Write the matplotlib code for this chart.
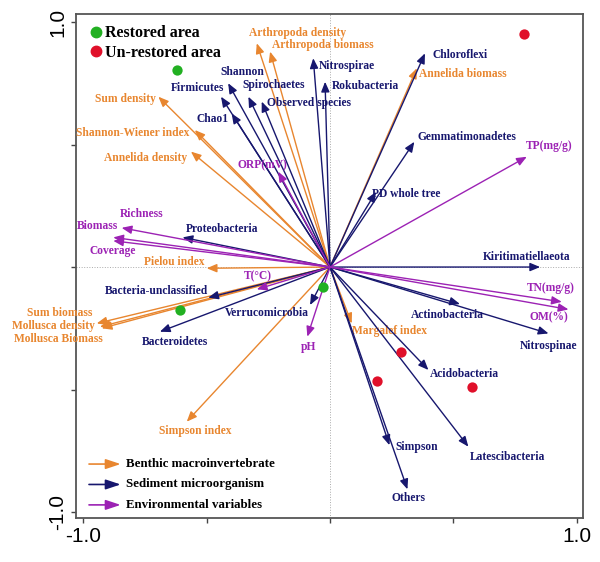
import matplotlib
matplotlib.use('Agg')
import matplotlib.pyplot as plt
from matplotlib.lines import Line2D

# ---- data (biplot scores) ----
benthic_names = ['Arthropoda density', 'Arthropoda biomass', 'Sum density', 'Shannon-Wiener index',
                 'Annelida density', 'Annelida biomass', 'Pielou index', 'Sum biomass',
                 'Mollusca density', 'Mollusca Biomass', 'Simpson index', 'Margalef index']
benthic_x = [-0.297, -0.243, -0.696, -0.548, -0.564, 0.352, -0.500, -0.946, -0.933, -0.926, -0.581, 0.088]
benthic_y = [0.913, 0.879, 0.695, 0.559, 0.471, 0.811, -0.005, -0.230, -0.244, -0.250, -0.631, -0.230]

micro_names = ['Chloroflexi', 'Nitrospirae', 'Rokubacteria', 'Observed species', 'Spirochaetes',
               'Shannon', 'Firmicutes', 'Chao1', 'Gemmatimonadetes', 'PD whole tree',
               'Proteobacteria', 'Kiritimatiellaeota', 'Bacteria-unclassified', 'Bacteroidetes',
               'Verrucomicrobia', 'Actinobacteria', 'Nitrospinae', 'Acidobacteria',
               'Latescibacteria', 'Simpson', 'Others']
micro_x = [0.385, -0.068, -0.020, -0.277, -0.331, -0.413, -0.442, -0.399, 0.342, 0.187,
           -0.598, 0.852, -0.494, -0.690, -0.081, 0.527, 0.886, 0.399, 0.561, 0.241, 0.314]
micro_y = [0.872, 0.852, 0.756, 0.675, 0.695, 0.750, 0.695, 0.627, 0.511, 0.307,
           0.121, 0.000, -0.125, -0.264, -0.155, -0.151, -0.271, -0.420, -0.733, -0.727, -0.907]

env_names = ['ORP(mV)', 'Biomass', 'Richness', 'Coverage', 'T(\u00b0C)', 'pH',
             'TP(mg/g)', 'TN(mg/g)', 'OM(%)']
env_x = [-0.210, -0.845, -0.879, -0.879, -0.297, -0.092, 0.798, 0.940, 0.967]
env_y = [0.389, 0.160, 0.121, 0.107, -0.091, -0.284, 0.450, -0.142, -0.173]

restored_x = [-0.622, -0.609, -0.027]
restored_y = [0.804, -0.176, -0.083]
unrestored_x = [0.787, 0.288, 0.189, 0.577]
unrestored_y = [0.951, -0.346, -0.464, -0.491]

# ---- label offsets from arrow tips (pixels) ----
benthic_off = [(41, 10), (53, 7), (-33, -2), (-62, -3), (-45, -6), (46, -6), (-32, 6),
               (-37, 10), (-47, 1), (-43, -11), (9, -9), (38, -8)]
micro_off = [(35, -2), (34, -8), (40, -4), (47, -1), (25, 12), (14, 11), (-23, 9), (-19, -6),
             (53, 5), (30, -2), (40, 8), (-13, 10), (-52, 7), (15, -10), (-43, -8), (-13, -11),
             (0, -13), (36, -4), (39, -10), (27, -2), (1, -9)]
env_off = [(-16, 6), (-24, 2), (28, 23), (-1, -10), (1, 13), (1, -10), (22, 11), (-11, 14), (-20, -8)]

ORANGE = '#E8862F'
NAVY = '#17176E'
PURPLE = '#9C22B4'
LAB_FONT = 'Liberation Serif'
LAB_SIZE = 8.3

fig = plt.figure(figsize=(6, 5.62), dpi=100)
ax = fig.add_axes([0.1267, 0.0783, 0.845, 0.897])
ax.set_xlim(-1.03, 1.026)
ax.set_ylim(-1.024, 1.033)

ax.axhline(0, color='#aaaaaa', lw=0.7, ls=':', zorder=0)
ax.axvline(0, color='#aaaaaa', lw=0.7, ls=':', zorder=0)

def draw_group(names, xs, ys, offs, color):
    for nm, x, y, off in zip(names, xs, ys, offs):
        ax.annotate('', xy=(x, y), xytext=(0, 0),
                    arrowprops=dict(arrowstyle='-|>,head_length=0.6,head_width=0.25',
                                    color=color, lw=1.0, shrinkA=0, shrinkB=0,
                                    mutation_scale=10))
        ax.annotate(nm, xy=(x, y), xytext=off, textcoords='offset pixels',
                    ha='center', va='center', color=color, fontsize=LAB_SIZE,
                    fontweight='bold', family=LAB_FONT)

draw_group(benthic_names, benthic_x, benthic_y, benthic_off, ORANGE)
draw_group(micro_names, micro_x, micro_y, micro_off, NAVY)
draw_group(env_names, env_x, env_y, env_off, PURPLE)

ax.scatter(restored_x, restored_y, s=55, color='#22B022', zorder=5, linewidths=0)
ax.scatter(unrestored_x, unrestored_y, s=55, color='#E0102A', zorder=5, linewidths=0)

# top-left legend
handles = [Line2D([], [], marker='o', ls='', color='#22B022', markersize=7.5),
           Line2D([], [], marker='o', ls='', color='#E0102A', markersize=7.5)]
ax.legend(handles, ['Restored area', 'Un-restored area'], loc='upper left',
          bbox_to_anchor=(-0.002, 0.995), frameon=False, handletextpad=-0.15,
          labelspacing=0.22, borderaxespad=0.15, handlelength=1.5,
          prop={'family': LAB_FONT, 'weight': 'bold', 'size': 11.5})

# bottom-left arrow legend
leg_items = [('Benthic macroinvertebrate', ORANGE), ('Sediment microorganism', NAVY),
             ('Environmental variables', PURPLE)]
for i, (txt, col) in enumerate(leg_items):
    yy = 0.107 - i * 0.0405
    ax.annotate('', xy=(0.088, yy), xytext=(0.0256, yy), xycoords='axes fraction',
                textcoords='axes fraction',
                arrowprops=dict(arrowstyle='-|>,head_length=0.9,head_width=0.3',
                                color=col, lw=1.2, shrinkA=0, shrinkB=0, mutation_scale=10))
    ax.text(0.0986, yy, txt, transform=ax.transAxes, ha='left', va='center',
            fontsize=9.3, fontweight='bold', family=LAB_FONT, color='black')

# axes / ticks
ax.set_xticks([-1, -0.5, 0, 0.5, 1])
ax.set_yticks([-1, -0.5, 0, 0.5, 1])
ax.set_xticklabels(['-1.0', '', '', '', '1.0'], family='Liberation Sans', fontsize=15)
ax.set_yticklabels(['-1.0', '', '', '', '1.0'], family='Liberation Sans', fontsize=15,
                   rotation=90, va='center')
ax.tick_params(direction='out', length=3.5, width=1, color='#444444', pad=3)
for sp in ax.spines.values():
    sp.set_color('#555555')
    sp.set_linewidth(1.3)

plt.savefig('out.png', dpi=100)
